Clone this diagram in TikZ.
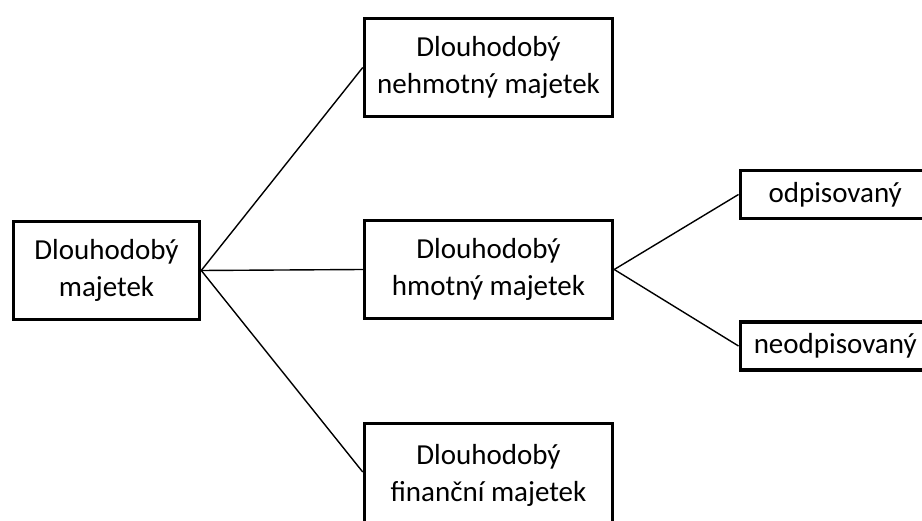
\documentclass[tikz,border=0pt]{standalone}
\usepackage{fontspec}
\setmainfont{Carlito}
\tikzset{
  box/.style={draw, line width=3.5pt, minimum height=98pt, align=center, inner sep=0pt,
    font=\fontsize{29}{37}\selectfont},
  smallbox/.style={box, minimum height=48pt, minimum width=190pt},
  link/.style={line width=1.4pt}
}
\begin{document}
\begin{tikzpicture}[x=1pt,y=-1pt]
\useasboundingbox (0,0) rectangle (922,521);
\clip (0,0) rectangle (922,521);
  \node[box, minimum width=186pt] (dm) at (106.5,270.5) {Dlouhodobý\\majetek};
  \node[box, minimum width=248pt] (dnm) at (488.5,67.5) {Dlouhodobý\\nehmotný majetek};
  \node[box, minimum width=248pt] (dhm) at (488.5,269.5) {Dlouhodobý\\hmotný majetek};
  \node[box, minimum width=248pt, minimum height=104pt] (dfm) at (488.5,475.5) {Dlouhodobý\\finanční majetek};
  \node[smallbox, anchor=west] (odp) at (738.5,194.5) {odpisovaný};
  \node[smallbox, anchor=west] (neodp) at (738.5,346) {neodpisovaný};
%  connectors
  \foreach \target in {dnm,dhm}
  	\draw[link] (dm.east) -- (\target.west);
  \draw[link] (dm.east) -- ([yshift=3.5pt]dfm.west);
  \foreach \target in {odp,neodp}
  	\draw[link] (dhm.east) -- (\target.west);
\end{tikzpicture}
\end{document}
